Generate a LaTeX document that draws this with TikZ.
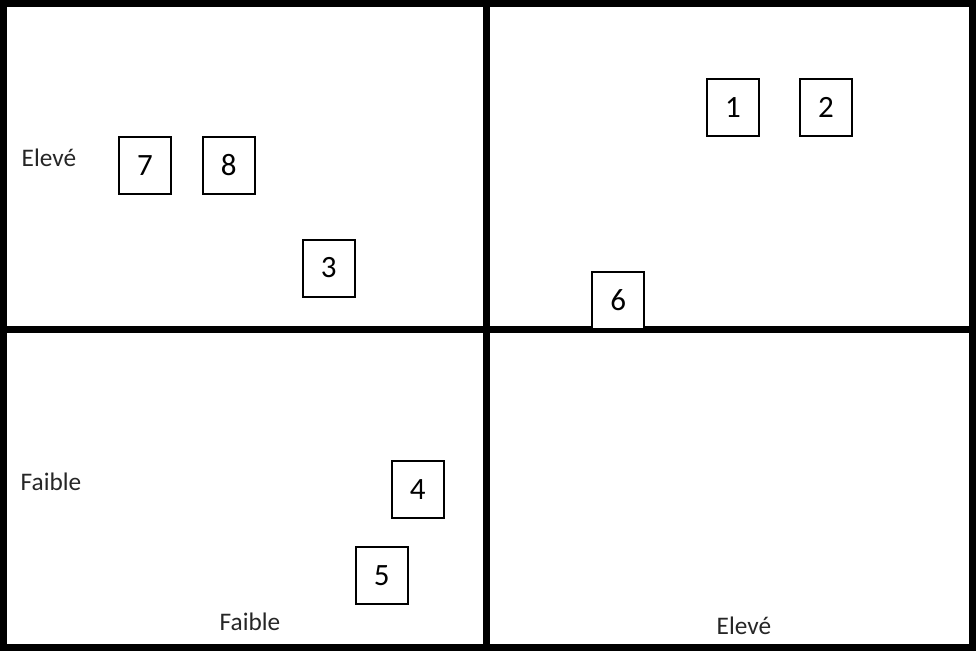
\documentclass[tikz,border=0pt]{standalone}
\usepackage{fontspec}
\setmainfont{Carlito}
\begin{document}
\begin{tikzpicture}[x=1pt,y=-1pt,
  numbox/.style={draw=black,fill=white,line width=2pt,minimum width=52pt,minimum height=57pt,inner sep=0pt,font=\fontsize{31}{31}\selectfont},
  axislabel/.style={anchor=base west,inner sep=0pt,text=black!85,font=\fontsize{25.3}{25.3}\selectfont},
  frame/.style={line width=7pt,black}]
\useasboundingbox (0,0) rectangle (976,651);
% quadrant frame
\draw[frame] (3.5,3.5) rectangle (972.5,647.5);
\draw[frame] (486,0) -- (486,651);
\draw[frame] (0,329) -- (976,329);
% axis labels
\node[axislabel] (ylow) at (20.5,490) {Faible};
\node[axislabel] (yhigh) at (21.5,166) {Elevé};
\node[axislabel] (xlow) at (219.5,630) {Faible};
\node[axislabel] (xhigh) at (716.5,634) {Elevé};
% numbered boxes
\node[numbox] (b1) at (733,107.8) {1};
\node[numbox] (b2) at (826,107.8) {2};
\node[numbox] (b7) at (145,165.5) {7};
\node[numbox] (b8) at (228.7,165) {8};
\node[numbox] (b3) at (328.7,268) {3};
\node[numbox] (b6) at (618.3,300.5) {6};
\node[numbox] (b4) at (417.8,489.5) {4};
\node[numbox] (b5) at (381.7,575.3) {5};
\end{tikzpicture}
\end{document}
